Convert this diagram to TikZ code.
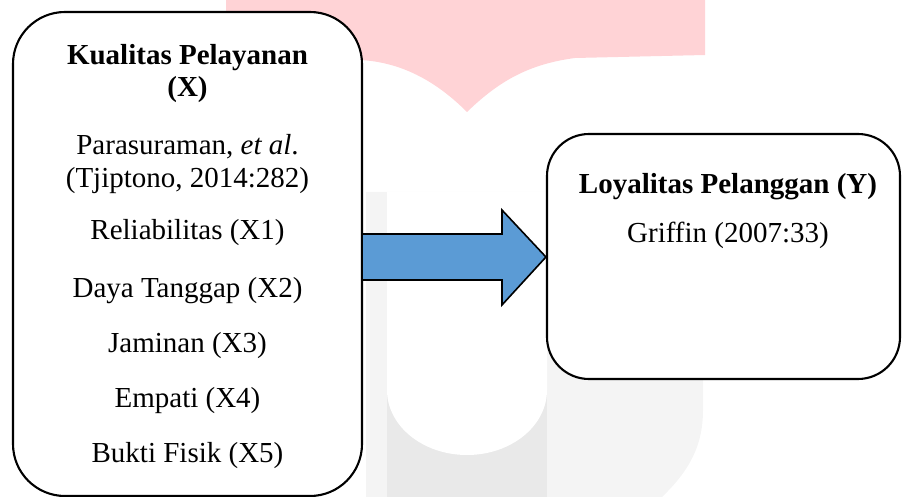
\documentclass[tikz,border=0pt]{standalone}
\usepackage{fontspec}
\setmainfont{Liberation Serif}
\usetikzlibrary{calc}
\definecolor{wmpink}{HTML}{FFD3D6}
\definecolor{wmgrayA}{HTML}{F4F4F4}
\definecolor{wmgrayB}{HTML}{E9E9E9}
\definecolor{arrowblue}{HTML}{5B9BD5}
\tikzset{
  box/.style={draw=black, line width=2.1pt, fill=white, rounded corners=#1, inner sep=0pt},
  txt/.style={anchor=base, inner sep=0pt, font=\fontsize{29}{33}\selectfont},
  btxt/.style={txt, font=\fontsize{29}{33}\selectfont\bfseries},
  bigarrow/.style={draw=black, line width=1.6pt, fill=arrowblue, line join=miter}
}
\begin{document}
\begin{tikzpicture}[x=1pt, y=-1pt]
\useasboundingbox (0,0) rectangle (902,497);
% faint watermark
\fill[wmpink] (226,0) -- (705,0) -- (705,55) -- (575,58)
  .. controls (530,64) and (500,80) .. (467,112)
  .. controls (435,80) and (400,62) .. (360,60) -- (226,57) -- cycle;
\fill[wmgrayA] (366,192) -- (366,497) -- (662,497) .. controls (690,470) and (703,445) .. (703,410) -- (703,192) -- cycle;
\fill[wmgrayB] (387,380) rectangle (547,497);
\fill[white] (387,192) -- (387,390) arc[start angle=180, end angle=360, x radius=80, y radius=-65] -- (547,192) -- cycle;
% boxes
\node[box=52pt, minimum width=349pt, minimum height=484pt] (L) at (187.5,254) {};
\node[box=42pt, minimum width=353pt, minimum height=245pt] (R) at (723.5,256.5) {};
% left texts
\node[btxt] (t1) at (187.5,65) {Kualitas Pelayanan};
\node[btxt] (t2) at (187.5,97) {(X)};
\node[txt] (t3) at (187.5,155) {Parasuraman, \textit{et al}.};
\node[txt] (t4) at (187.5,188) {(Tjiptono, 2014:282)};
\node[txt] (t5) at (187.5,240) {Reliabilitas (X1)};
\node[txt] (t6) at (187.5,297) {Daya Tanggap (X2)};
\node[txt] (t7) at (187.5,352) {Jaminan (X3)};
\node[txt] (t8) at (187.5,407) {Empati (X4)};
\node[txt] (t9) at (187.5,462) {Bukti Fisik (X5)};
% right texts
\node[btxt] (r1) at (728,194) {Loyalitas Pelanggan (Y)};
\node[txt] (r2) at (728,243) {Griffin (2007:33)};
% arrow
\coordinate (ay) at (0,257);
\coordinate (as) at (L.east |- ay);
\coordinate (ae) at (R.west |- ay);
\draw[bigarrow] ($(as)+(0,-23)$) -- ($(ae)+(-44,-23)$) -- ($(ae)+(-44,-47)$) -- (ae)
  -- ($(ae)+(-44,48)$) -- ($(ae)+(-44,23)$) -- ($(as)+(0,23)$);
\end{tikzpicture}
\end{document}
